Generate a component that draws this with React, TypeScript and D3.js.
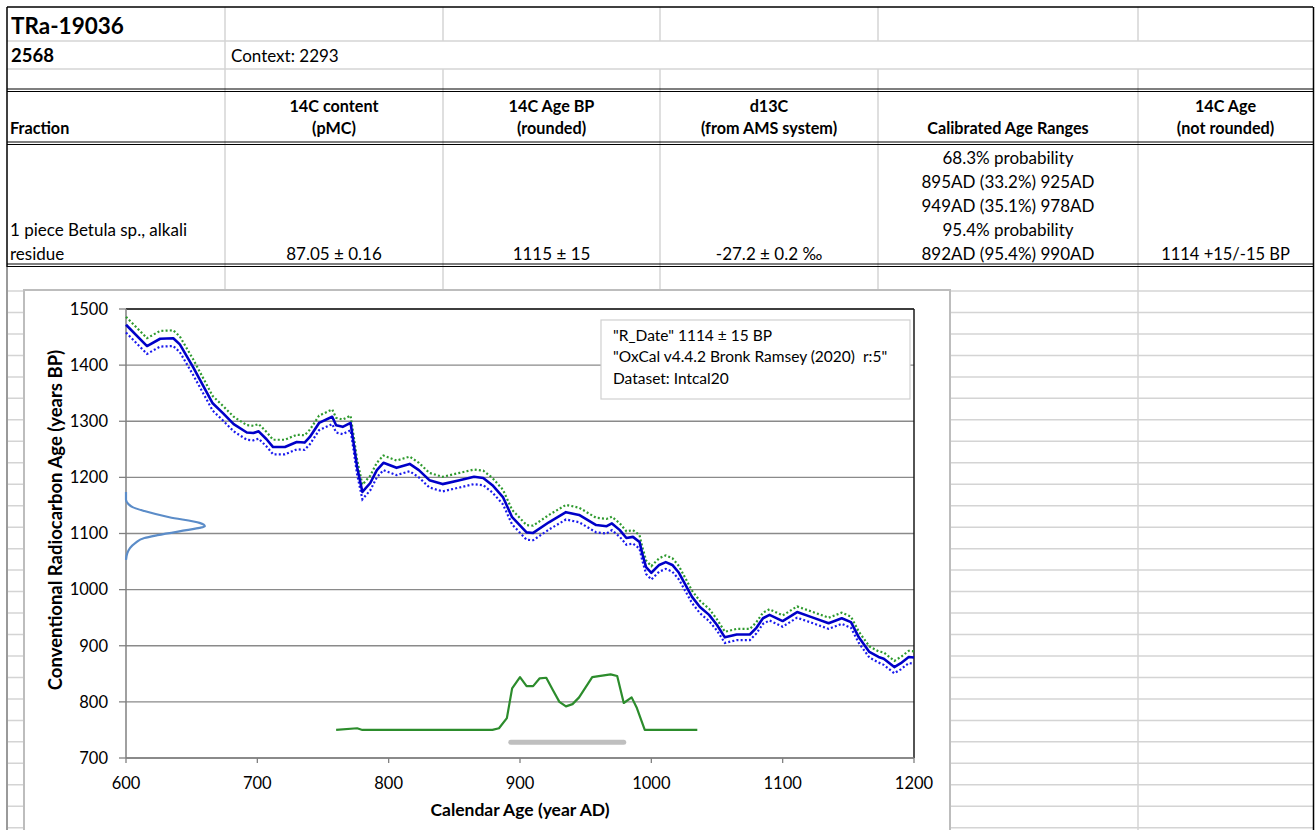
import React from 'react';
import * as d3 from 'd3';

// ---------- table content ----------
const sampleId = 'TRa-19036';
const sampleNo = '2568';
const contextText = 'Context: 2293';
const headerLine1 = ['', '14C content', '14C Age BP', 'd13C', '', '14C Age'];
const headerLine2 = ['Fraction', '(pMC)', '(rounded)', '(from AMS system)', 'Calibrated Age Ranges', '(not rounded)'];
const fractionLines = ['1 piece Betula sp., alkali', 'residue'];
const pmcText = '87.05 ± 0.16';
const ageText = '1115 ± 15';
const d13cText = '-27.2 ± 0.2 ‰';
const calRanges = ['68.3% probability', '895AD (33.2%) 925AD', '949AD (35.1%) 978AD', '95.4% probability', '892AD (95.4%) 990AD'];
const ageNotRounded = '1114 +15/-15 BP';

// ---------- chart content ----------
const legendLines = ['"R_Date" 1114 ± 15 BP', '"OxCal v4.4.2 Bronk Ramsey (2020)  r:5"', 'Dataset: Intcal20'];
const xTitle = 'Calendar Age (year AD)';
const yTitle = 'Conventional Radiocarbon Age (years BP)';
const xTicks = [600, 700, 800, 900, 1000, 1100, 1200];
const yTicks = [700, 800, 900, 1000, 1100, 1200, 1300, 1400, 1500];

// calibration curve (IntCal20) : calendar year AD, BP, 1-sigma
const calYears = [600, 616, 626, 636, 641, 651, 666, 674, 682, 692, 697, 701, 707, 712, 721, 730, 736, 740, 747, 757, 760, 765, 771, 773, 776, 780, 786, 791, 796, 806, 816, 823, 831, 841, 854, 865, 872, 879, 887, 894, 905, 910, 922, 935, 945, 958, 966, 970, 976, 981, 986, 991, 993, 996, 1000, 1006, 1011, 1016, 1021, 1031, 1037, 1044, 1050, 1056, 1065, 1075, 1080, 1085, 1090, 1100, 1111, 1122, 1135, 1145, 1152, 1158, 1166, 1173, 1177, 1185, 1190, 1196, 1200];
const calBP = [1472, 1434, 1447, 1448, 1437, 1397, 1332, 1314, 1295, 1280, 1279, 1282, 1268, 1254, 1254, 1263, 1262, 1272, 1297, 1308, 1293, 1290, 1297, 1266, 1218, 1174, 1190, 1213, 1226, 1217, 1224, 1213, 1195, 1188, 1195, 1201, 1199, 1186, 1165, 1129, 1102, 1101, 1120, 1138, 1133, 1115, 1113, 1118, 1106, 1092, 1094, 1085, 1065, 1040, 1030, 1044, 1049, 1044, 1030, 987, 969, 955, 937, 915, 920, 920, 932, 949, 955, 944, 960, 951, 940, 949, 942, 915, 889, 880, 877, 862, 869, 880, 879];
const calErr = [14, 14, 14, 14, 14, 14, 13, 13, 13, 13, 13, 13, 13, 13, 13, 13, 13, 13, 13, 13, 13, 13, 13, 13, 13, 13, 13, 13, 13, 13, 13, 13, 13, 13, 13, 13, 13, 13, 13, 13, 13, 13, 13, 13, 13, 13, 13, 12, 12, 12, 12, 12, 12, 12, 12, 12, 12, 12, 12, 11, 11, 11, 10, 10, 10, 10, 10, 10, 10, 10, 10, 10, 10, 10, 10, 10, 10, 10, 11, 11, 11, 11, 11];

// measured radiocarbon date distribution drawn on the y axis (BP, x in calendar units)
const dateBP = [1174, 1160, 1152, 1147, 1140, 1129, 1119, 1113, 1110, 1106, 1097, 1092, 1083, 1074, 1065, 1053];
const dateX = [600, 600, 602, 605, 614, 633, 656, 660, 656, 646, 624, 614, 607, 603, 601, 600];

// calibrated probability distribution (calendar year, plotted BP value)
const postYears = [760, 776, 780, 879, 884, 890, 894, 900, 905, 910, 915, 920, 925, 930, 935, 940, 945, 955, 960, 969, 974, 979, 985, 989, 995, 1035];
const postValues = [750, 753, 750, 750, 753, 771, 824, 844, 828, 828, 842, 843, 821, 800, 792, 796, 808, 844, 846, 849, 846, 798, 808, 789, 750, 750];

// 95.4% range bar
const rangeStart = 893;
const rangeEnd = 979;
const rangeLevel = 728;

const FONT = "Lato, 'Open Sans', 'DejaVu Sans', sans-serif";

export default function App() {
  const colX = [7, 225, 443, 660, 878, 1138, 1313];
  const colC = colX.slice(0, -1).map((c, i) => (c + colX[i + 1]) / 2);

  const x = d3.scaleLinear().domain([600, 1200]).range([126, 914]);
  const y = d3.scaleLinear().domain([700, 1500]).range([758, 309]);
  const line = d3.line<[number, number]>().x(d => x(d[0])).y(d => y(d[1]));

  const midPath = line(calYears.map((t, i) => [t, calBP[i]]));
  const upPath = line(calYears.map((t, i) => [t, calBP[i] + calErr[i]]));
  const loPath = line(calYears.map((t, i) => [t, calBP[i] - calErr[i]]));
  const datePath = d3.line<[number, number]>().x(d => x(d[0])).y(d => y(d[1])).curve(d3.curveMonotoneY)(dateBP.map((b, i) => [dateX[i], b]));
  const postPath = line(postYears.map((t, i) => [t, postValues[i]]));

  const grid = '#d4d4d4';
  const sheetRows: number[] = [];
  for (let r = 291; r < 830; r += 21.47) sheetRows.push(r);

  const dataLineY = [163.5, 187.5, 211.5, 235.5, 259.5];
  const fs = 17;
  const hfs = 16.2;

  return (
    <svg width={1316} height={830} style={{ position: 'absolute', left: 0, top: 0, background: '#fff' }} fontFamily={FONT}>
      <rect x={0} y={0} width={1316} height={830} fill="#fff" />
      {/* sheet gridlines below table */}
      {sheetRows.map((r, i) => (
        <line key={'sr' + i} x1={7} x2={1313} y1={r} y2={r} stroke={grid} strokeWidth={1.5} />
      ))}
      {/* vertical gridlines */}
      {colX.slice(1, -1).map((c, i) => (
        <g key={'vc' + i}>
          <line x1={c} x2={c} y1={7} y2={41} stroke={grid} strokeWidth={1.5} />
          {i === 0 && <line x1={c} x2={c} y1={41} y2={69} stroke={grid} strokeWidth={1.5} />}
          <line x1={c} x2={c} y1={69} y2={830} stroke={grid} strokeWidth={1.5} />
        </g>
      ))}
      {/* row lines */}
      <line x1={7} x2={1313} y1={41} y2={41} stroke={grid} strokeWidth={1.5} />
      <line x1={7} x2={1313} y1={69} y2={69} stroke={grid} strokeWidth={1.5} />
      {[89, 142, 264].map((r, i) => (
        <g key={'dbl' + i}>
          <line x1={7} x2={1313} y1={r} y2={r} stroke="#000" strokeWidth={1.2} />
          <line x1={7} x2={1313} y1={r + 2.5} y2={r + 2.5} stroke="#000" strokeWidth={1.2} />
        </g>
      ))}
      {/* outer borders */}
      <line x1={7} x2={1313} y1={7} y2={7} stroke="#000" strokeWidth={1.5} />
      <line x1={7} x2={7} y1={7} y2={267} stroke="#000" strokeWidth={1.5} />
      <line x1={7} x2={7} y1={267} y2={830} stroke="#9a9a9a" strokeWidth={2} />
      <line x1={1313.5} x2={1313.5} y1={7} y2={830} stroke="#000" strokeWidth={1.5} />

      {/* table text */}
      <text x={11} y={33.5} fontSize={22.5} fontWeight="bold" fill="#000">{sampleId}</text>
      <text x={11} y={62} fontSize={18.5} fontWeight="bold" fill="#000">{sampleNo}</text>
      <text x={231} y={62} fontSize={fs} fill="#000">{contextText}</text>
      {headerLine1.map((t, i) => t && (
        <text key={'h1' + i} x={colC[i]} y={112} fontSize={hfs} fontWeight="bold" textAnchor="middle">{t}</text>
      ))}
      {headerLine2.map((t, i) => (
        <text key={'h2' + i} x={i === 0 ? 10 : colC[i]} y={134} fontSize={hfs} fontWeight="bold" textAnchor={i === 0 ? 'start' : 'middle'}>{t}</text>
      ))}
      <text x={10} y={dataLineY[3]} fontSize={fs}>{fractionLines[0]}</text>
      <text x={10} y={dataLineY[4]} fontSize={fs}>{fractionLines[1]}</text>
      <text x={colC[1]} y={dataLineY[4]} fontSize={fs} textAnchor="middle">{pmcText}</text>
      <text x={colC[2]} y={dataLineY[4]} fontSize={fs} textAnchor="middle">{ageText}</text>
      <text x={colC[3]} y={dataLineY[4]} fontSize={fs} textAnchor="middle">{d13cText}</text>
      {calRanges.map((t, i) => (
        <text key={'cr' + i} x={colC[4]} y={dataLineY[i]} fontSize={fs} textAnchor="middle">{t}</text>
      ))}
      <text x={colC[5]} y={dataLineY[4]} fontSize={16.5} textAnchor="middle">{ageNotRounded}</text>

      {/* chart box */}
      <rect x={24} y={290} width={926} height={560} fill="#fff" stroke="#bdbdbd" strokeWidth={2} />

      {/* gridlines */}
      {yTicks.map(t => (
        <line key={'gy' + t} x1={x(600)} x2={x(1200)} y1={y(t)} y2={y(t)} stroke="#8a8a8a" strokeWidth={1.3} />
      ))}
      {/* plot frame top/right */}
      <line x1={x(600)} x2={x(1200)} y1={y(1500)} y2={y(1500)} stroke="#1a1a1a" strokeWidth={1.5} />
      <line x1={x(1200)} x2={x(1200)} y1={y(1500)} y2={y(700)} stroke="#1a1a1a" strokeWidth={1.5} />
      {/* axes */}
      <line x1={x(600)} x2={x(600)} y1={y(1500)} y2={y(700)} stroke="#808080" strokeWidth={1.5} />
      <line x1={x(600)} x2={x(1200)} y1={y(700)} y2={y(700)} stroke="#808080" strokeWidth={1.5} />
      {yTicks.map(t => (
        <g key={'ty' + t}>
          <line x1={x(600) - 7} x2={x(600)} y1={y(t)} y2={y(t)} stroke="#808080" strokeWidth={1.3} />
          <text x={108} y={y(t) + 5.8} fontSize={16.5} textAnchor="end" fill="#000">{t}</text>
        </g>
      ))}
      {xTicks.map(t => (
        <g key={'tx' + t}>
          <line x1={x(t)} x2={x(t)} y1={y(700)} y2={y(700) + 5} stroke="#808080" strokeWidth={1.3} />
          <text x={x(t)} y={789} fontSize={16.5} textAnchor="middle" fill="#000">{t}</text>
        </g>
      ))}
      <text x={520} y={816} fontSize={17.5} fontWeight="bold" textAnchor="middle">{xTitle}</text>
      <text transform={`translate(62,520) rotate(-90)`} fontSize={18.5} fontWeight="bold" textAnchor="middle">{yTitle}</text>

      {/* 95.4% range bar */}
      <line x1={x(rangeStart)} x2={x(rangeEnd)} y1={y(rangeLevel)} y2={y(rangeLevel)} stroke="#bfbfbf" strokeWidth={5} strokeLinecap="round" />
      {/* calibrated distribution */}
      <path d={postPath || ''} fill="none" stroke="#2c8c2c" strokeWidth={2.2} strokeLinejoin="round" />
      {/* measured date distribution */}
      <path d={datePath || ''} fill="none" stroke="#5b8cc8" strokeWidth={2.2} />
      {/* calibration curve */}
      <path d={upPath || ''} fill="none" stroke="#2f9a2f" strokeWidth={2.2} strokeDasharray="2 2.2" />
      <path d={loPath || ''} fill="none" stroke="#1a1aee" strokeWidth={2.2} strokeDasharray="2 2.2" />
      <path d={midPath || ''} fill="none" stroke="#0000c8" strokeWidth={2.6} strokeLinejoin="round" />

      {/* legend */}
      <rect x={601} y={320} width={309} height={79} fill="#fff" stroke="#d0d0d0" strokeWidth={1.2} />
      {legendLines.map((t, i) => (
        <text key={'lg' + i} x={613} y={340.5 + i * 21.5} fontSize={15.5} fill="#000" style={{ whiteSpace: 'pre' }}>{t}</text>
      ))}
    </svg>
  );
}
